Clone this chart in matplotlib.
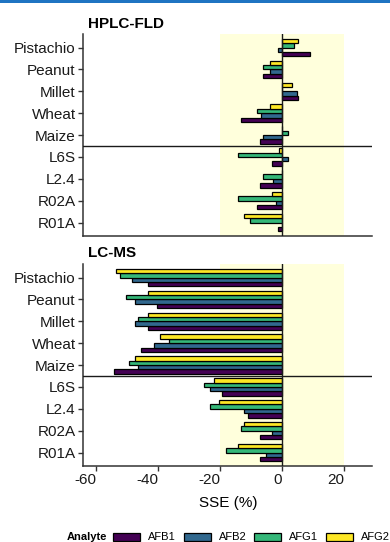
import matplotlib
matplotlib.use("Agg")
import matplotlib.pyplot as plt
import numpy as np
from matplotlib.patches import Patch, Rectangle

plt.rcParams['font.family'] = ['Liberation Sans', 'DejaVu Sans']

categories = ["Pistachio", "Peanut", "Millet", "Wheat", "Maize", "L6S", "L2.4", "R02A", "R01A"]
analytes = ["AFB1", "AFB2", "AFG1", "AFG2"]
colors = ["#440154", "#31688E", "#35B779", "#FDE725"]

hplc_AFB1 = [9.2, -6.2, 5.2, -13.1, -7.1, -3.1, -7.1, -8.2, -1.2]
hplc_AFB2 = [-1.2, -4.0, 5.0, -6.7, -6.2, 2.1, -2.9, -1.9, 0.0]
hplc_AFG1 = [4.0, -6.2, 0.0, -8.2, 1.9, -14.3, -6.2, -14.3, -10.2]
hplc_AFG2 = [5.1, -4.0, 3.1, -4.0, 0.0, -1.0, 0.0, -3.1, -12.2]

lcms_AFB1 = [-43.4, -40.5, -43.4, -45.5, -54.4, -19.3, -11.1, -7.1, -7.1]
lcms_AFB2 = [-48.4, -47.4, -47.4, -41.3, -46.4, -23.3, -12.2, -3.1, -5.1]
lcms_AFG1 = [-52.4, -50.4, -46.4, -36.4, -49.5, -25.2, -23.3, -13.2, -18.2]
lcms_AFG2 = [-53.5, -43.4, -43.4, -39.3, -47.4, -22.1, -20.2, -12.2, -14.2]

xticks = [-60, -40, -20, 0, 20]
xtick_labels = ["-60", "-40", "-20", "0", "20"]

panels = [
    ("HPLC-FLD", [hplc_AFB1, hplc_AFB2, hplc_AFG1, hplc_AFG2]),
    ("LC-MS", [lcms_AFB1, lcms_AFB2, lcms_AFG1, lcms_AFG2]),
]

W, H = 390, 542
fig = plt.figure(figsize=(W / 100, H / 100), dpi=100)

left = 83.3 / W
right = 372.3 / W
axes_px = [(34, 235.7), (264, 465.7)]
title_y = [23.5, 253]

n = len(categories)
ypos = np.arange(n)[::-1].astype(float)
bar_h = 0.2
offsets = np.array([-1.5, -0.5, 0.5, 1.5]) * bar_h

for i, (title, series) in enumerate(panels):
    top_px, bot_px = axes_px[i]
    ax = fig.add_axes([left, 1 - bot_px / H, right - left, (bot_px - top_px) / H])
    ax.axvspan(-20, 20, color="#FFFFDC", zorder=0, lw=0)
    for k, vals in enumerate(series):
        ax.barh(ypos + offsets[k], vals, height=bar_h, color=colors[k],
                edgecolor="black", linewidth=0.9, zorder=2)
    ax.axvline(0, color="#1a1a1a", lw=1.0, zorder=3)
    ax.axhline(3.5, color="#1a1a1a", lw=1.0, zorder=3)
    ax.set_xlim(-64.2, 29.2)
    ax.set_ylim(-0.6, 8.62)
    ax.set_yticks(ypos)
    ax.set_yticklabels(categories, fontsize=11, color="#1a1a1a")
    for s in ["top", "right"]:
        ax.spines[s].set_visible(False)
    for s in ["left", "bottom"]:
        ax.spines[s].set_color("#333333")
        ax.spines[s].set_linewidth(1.1)
    ax.tick_params(axis="y", length=3.5, width=1.0, color="#333333", pad=2)
    if i == 0:
        ax.set_xticks([])
    else:
        ax.set_xticks(xticks)
        ax.set_xticklabels(xtick_labels, fontsize=11, color="#1a1a1a", ha="right")
        ax.tick_params(axis="x", length=3.5, width=1.0, color="#333333", pad=2)
        ax.set_xlabel("SSE (%)", fontsize=11, labelpad=6)
    fig.text(88 / W, 1 - title_y[i] / H, title, fontsize=11, fontweight="bold",
             ha="left", va="center")

# top blue border strip
fig.patches.append(Rectangle((0, 1 - 2.7 / H), 1, 2.7 / H, transform=fig.transFigure,
                             color="#1F74C2", lw=0))

handles = [Patch(facecolor=c, edgecolor="black", linewidth=0.9) for c in colors]
fig.legend(handles, analytes, loc="center left", bbox_to_anchor=(113 / W, 1 - 537.5 / H),
           ncol=4, frameon=False, fontsize=8, handlelength=2.45, handleheight=0.72,
           handletextpad=0.7, columnspacing=0.7, borderpad=0, borderaxespad=0)
fig.text(107 / W, 1 - 537.5 / H, "Analyte", fontsize=8, fontweight="bold",
         ha="right", va="center")

fig.savefig("out.png", dpi=100)
